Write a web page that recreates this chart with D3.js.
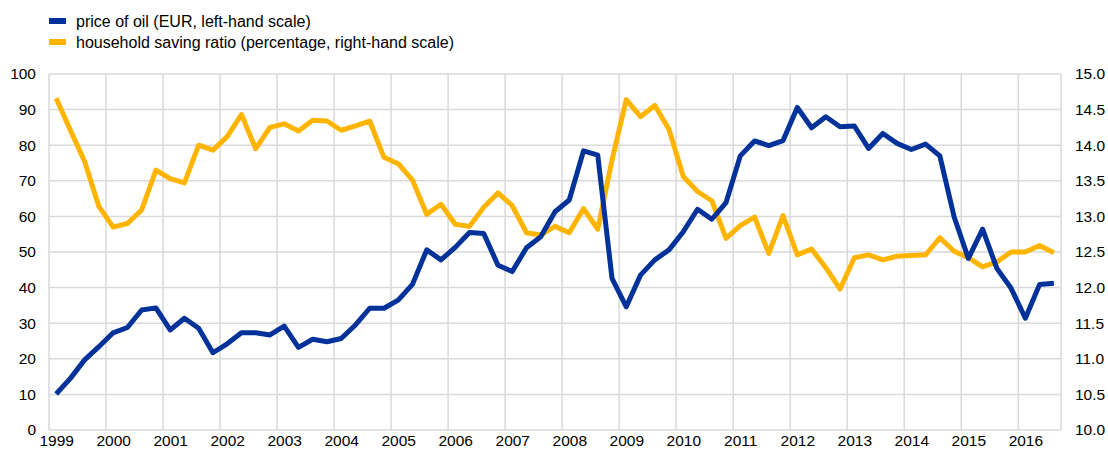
<!DOCTYPE html>
<html>
<head>
<meta charset="utf-8">
<script src="https://cdn.jsdelivr.net/npm/d3@7"></script>
<style>
  body { margin: 0; background: #fff; }
  text { font-family: "Liberation Sans", Arial, sans-serif; fill: #000; }
</style>
</head>
<body>
<div id="chart-area"></div>
<script>
// quarterly data, 1999Q1 - 2016Q3
let years = d3.range(1999, 2017)
let seriesNames = ['price of oil (EUR, left-hand scale)', 'household saving ratio (percentage, right-hand scale)']
let leftTicks = d3.range(0, 101, 10)
let rightTicks = d3.range(10, 15.01, 0.5)

let oilPrice = [
  10.1, 14.5, 19.7, 23.4, 27.3, 28.8, 33.7, 34.3, 28.1, 31.4, 28.6, 21.7,
  24.2, 27.3, 27.3, 26.7, 29.2, 23.2, 25.5, 24.8, 25.7, 29.5, 34.2, 34.2,
  36.5, 40.9, 50.6, 47.8, 51.3, 55.5, 55.2, 46.3, 44.5, 51.2, 54.3, 61.3,
  64.6, 78.4, 77.2, 42.6, 34.6, 43.5, 47.8, 50.6, 55.7, 62.0, 59.2, 63.9,
  77.0, 81.2, 79.9, 81.3, 90.6, 84.9, 88.0, 85.2, 85.4, 79.1, 83.3, 80.5,
  78.8, 80.3, 77.0, 59.9, 48.2, 56.4, 45.4, 39.8, 31.4, 40.9, 41.2
]
let savingRatio = [
  14.66, 14.21, 13.77, 13.14, 12.85, 12.90, 13.09, 13.65, 13.53, 13.47, 14.00, 13.93,
  14.12, 14.43, 13.95, 14.25, 14.30, 14.20, 14.35, 14.34, 14.21, 14.27, 14.34, 13.83,
  13.74, 13.51, 13.03, 13.17, 12.89, 12.86, 13.13, 13.33, 13.15, 12.77, 12.74, 12.86,
  12.77, 13.11, 12.82, 13.79, 14.64, 14.40, 14.56, 14.22, 13.56, 13.35, 13.22, 12.69,
  12.87, 12.99, 12.48, 13.01, 12.46, 12.54, 12.28, 11.98, 12.42, 12.46, 12.39, 12.44,
  12.45, 12.46, 12.70, 12.51, 12.42, 12.29, 12.36, 12.50, 12.50, 12.59, 12.49
]

let colors = ['#003299', '#ffb400']

let margin = { left: 49, right: 47, top: 74, bottom: 24 }
let width = 1108 - margin.left - margin.right
let height = 454 - margin.top - margin.bottom

let svg = d3.select('#chart-area').append('svg')
  .attr('width', 1108)
  .attr('height', 454)

let g = svg.append('g')
  .attr('transform', 'translate(' + margin.left + ', ' + margin.top + ')')

// Scales (x in fractional years, points at quarter centres)
let x = d3.scaleLinear().domain([1999, 2016.75]).range([0, width])
let yLeft = d3.scaleLinear().domain([0, 100]).range([height, 0])
let yRight = d3.scaleLinear().domain([10, 15]).range([height, 0])

let qx = (i) => x(1999 + i * 0.25 + 0.125)

// Grid
g.append('g').selectAll('line').data(leftTicks).enter().append('line')
  .attr('x1', 0).attr('x2', width)
  .attr('y1', d => yLeft(d)).attr('y2', d => yLeft(d))
  .attr('stroke', '#d9d9d9').attr('stroke-width', 1.5)

g.append('g').selectAll('line').data(years.concat([2016.75])).enter().append('line')
  .attr('x1', d => x(d)).attr('x2', d => x(d))
  .attr('y1', 0).attr('y2', height)
  .attr('stroke', '#d9d9d9').attr('stroke-width', 1.5)

// Axes
let yAxisLeft = g.append('g')
  .call(d3.axisLeft(yLeft).tickValues(leftTicks).tickSize(0).tickPadding(13))
let yAxisRight = g.append('g')
  .attr('transform', 'translate(' + width + ', 0)')
  .call(d3.axisRight(yRight).tickValues(rightTicks).tickSize(0).tickPadding(14).tickFormat(d3.format('.1f')))
let xAxis = g.append('g')
  .attr('transform', 'translate(0, ' + height + ')')
  .call(d3.axisBottom(x).tickValues(years.map(d => d + 0.125)).tickSize(0).tickPadding(5)
    .tickFormat(d => Math.floor(d)))

;[yAxisLeft, yAxisRight, xAxis].forEach(a => {
  a.select('.domain').remove()
  a.selectAll('text').style('font-size', '15.5px').style('font-family', '"Liberation Sans", Arial, sans-serif')
})

// Lines
let lineLeft = d3.line().x((d, i) => qx(i)).y(d => yLeft(d))
let lineRight = d3.line().x((d, i) => qx(i)).y(d => yRight(d))

g.append('path')
  .attr('fill', 'none')
  .attr('stroke', colors[1])
  .attr('stroke-width', 5)
  .attr('stroke-linejoin', 'round')
  .attr('d', lineRight(savingRatio))

g.append('path')
  .attr('fill', 'none')
  .attr('stroke', colors[0])
  .attr('stroke-width', 5)
  .attr('stroke-linejoin', 'round')
  .attr('d', lineLeft(oilPrice))

// Legend
let legend = svg.append('g').attr('transform', 'translate(49, 14)')
seriesNames.forEach((name, i) => {
  legend.append('rect')
    .attr('x', 0).attr('y', 4 + i * 21)
    .attr('width', 17).attr('height', 6)
    .attr('fill', colors[i])
  legend.append('text')
    .attr('x', 27).attr('y', 7 + i * 21)
    .attr('dy', '.35em')
    .style('font-size', '16px')
    .text(name)
})
</script>
</body>
</html>
